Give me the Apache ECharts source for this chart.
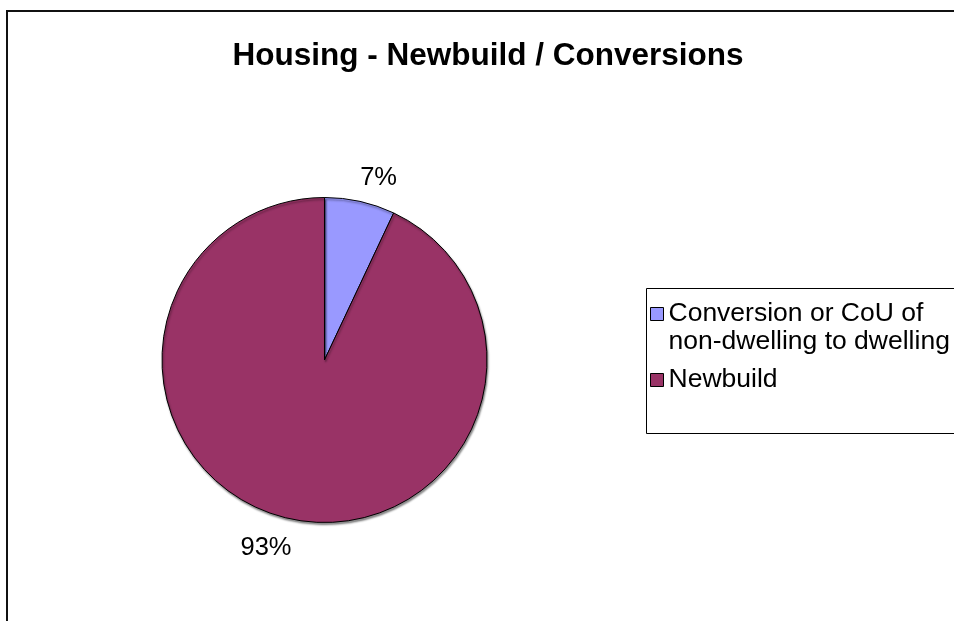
<!DOCTYPE html>
<html>
<head>
<meta charset="utf-8">
<title>Housing - Newbuild / Conversions</title>
<script src="https://cdn.jsdelivr.net/npm/echarts@6/dist/echarts.min.js"></script>
<style>
  html, body { margin: 0; padding: 0; background: #fff; }
  #chart { width: 954px; height: 621px; }
</style>
</head>
<body>
<div id="chart"></div>
<script>
// Share of new homes by type (percent)
const categories = ['Conversion or CoU of non-dwelling to dwelling', 'Newbuild'];
// Legend wording; the leading blank line keeps the first text line level with its swatch
const legendText = ['\nConversion or CoU of\nnon-dwelling to dwelling', 'Newbuild'];
const shares = [7, 93];
const colors = ['#9999FF', '#993366'];

const FONT = '"Liberation Sans", Arial, sans-serif';

// Label leader geometry (line itself hidden) keeps the percentages just outside the pie
const labelLines = [
  { show: false, length: 24, length2: -5 },
  { show: false, length: 30, length2: -9 }
];

const chart = echarts.init(document.getElementById('chart'), null, { renderer: 'canvas' });

chart.setOption({
  animation: false,
  backgroundColor: '#fff',
  title: {
    text: 'Housing - Newbuild / Conversions',
    left: 483,
    top: 35,
    textAlign: 'center',
    textStyle: { fontFamily: FONT, fontSize: 31.5, fontWeight: 'bold', color: '#000' }
  },
  graphic: [
    {
      type: 'rect',
      silent: true,
      shape: { x: 7, y: 11, width: 1000, height: 700 },
      style: { fill: 'none', stroke: '#111', lineWidth: 2 }
    },
    {
      type: 'rect',
      silent: true,
      shape: { x: 646.5, y: 288.5, width: 400, height: 145 },
      style: { fill: '#fff', stroke: '#000', lineWidth: 1 }
    }
  ],
  legend: {
    orient: 'vertical',
    left: 650,
    top: 272,
    padding: 0,
    itemGap: 10,
    itemWidth: 13,
    itemHeight: 13,
    icon: 'rect',
    itemStyle: { borderColor: '#000', borderWidth: 1 },
    textStyle: { fontFamily: FONT, fontSize: 26.5, color: '#000', lineHeight: 28 },
    data: categories,
    formatter: name => legendText[categories.indexOf(name)]
  },
  series: [{
    type: 'pie',
    center: [324.5, 360],
    radius: 162.5,
    startAngle: 90,
    clockwise: true,
    avoidLabelOverlap: false,
    silent: true,
    itemStyle: {
      borderColor: '#000',
      borderWidth: 1,
      shadowColor: 'rgba(0,0,0,0.45)',
      shadowBlur: 2,
      shadowOffsetX: 1,
      shadowOffsetY: 2
    },
    label: {
      show: true,
      position: 'outside',
      distanceToLabelLine: 0,
      fontFamily: FONT,
      fontSize: 25.5,
      color: '#000',
      formatter: p => p.value + '%'
    },
    labelLine: { show: false },
    data: categories.map((name, i) => ({
      name: name,
      value: shares[i],
      itemStyle: { color: colors[i] },
      labelLine: labelLines[i]
    }))
  }]
});
</script>
</body>
</html>
